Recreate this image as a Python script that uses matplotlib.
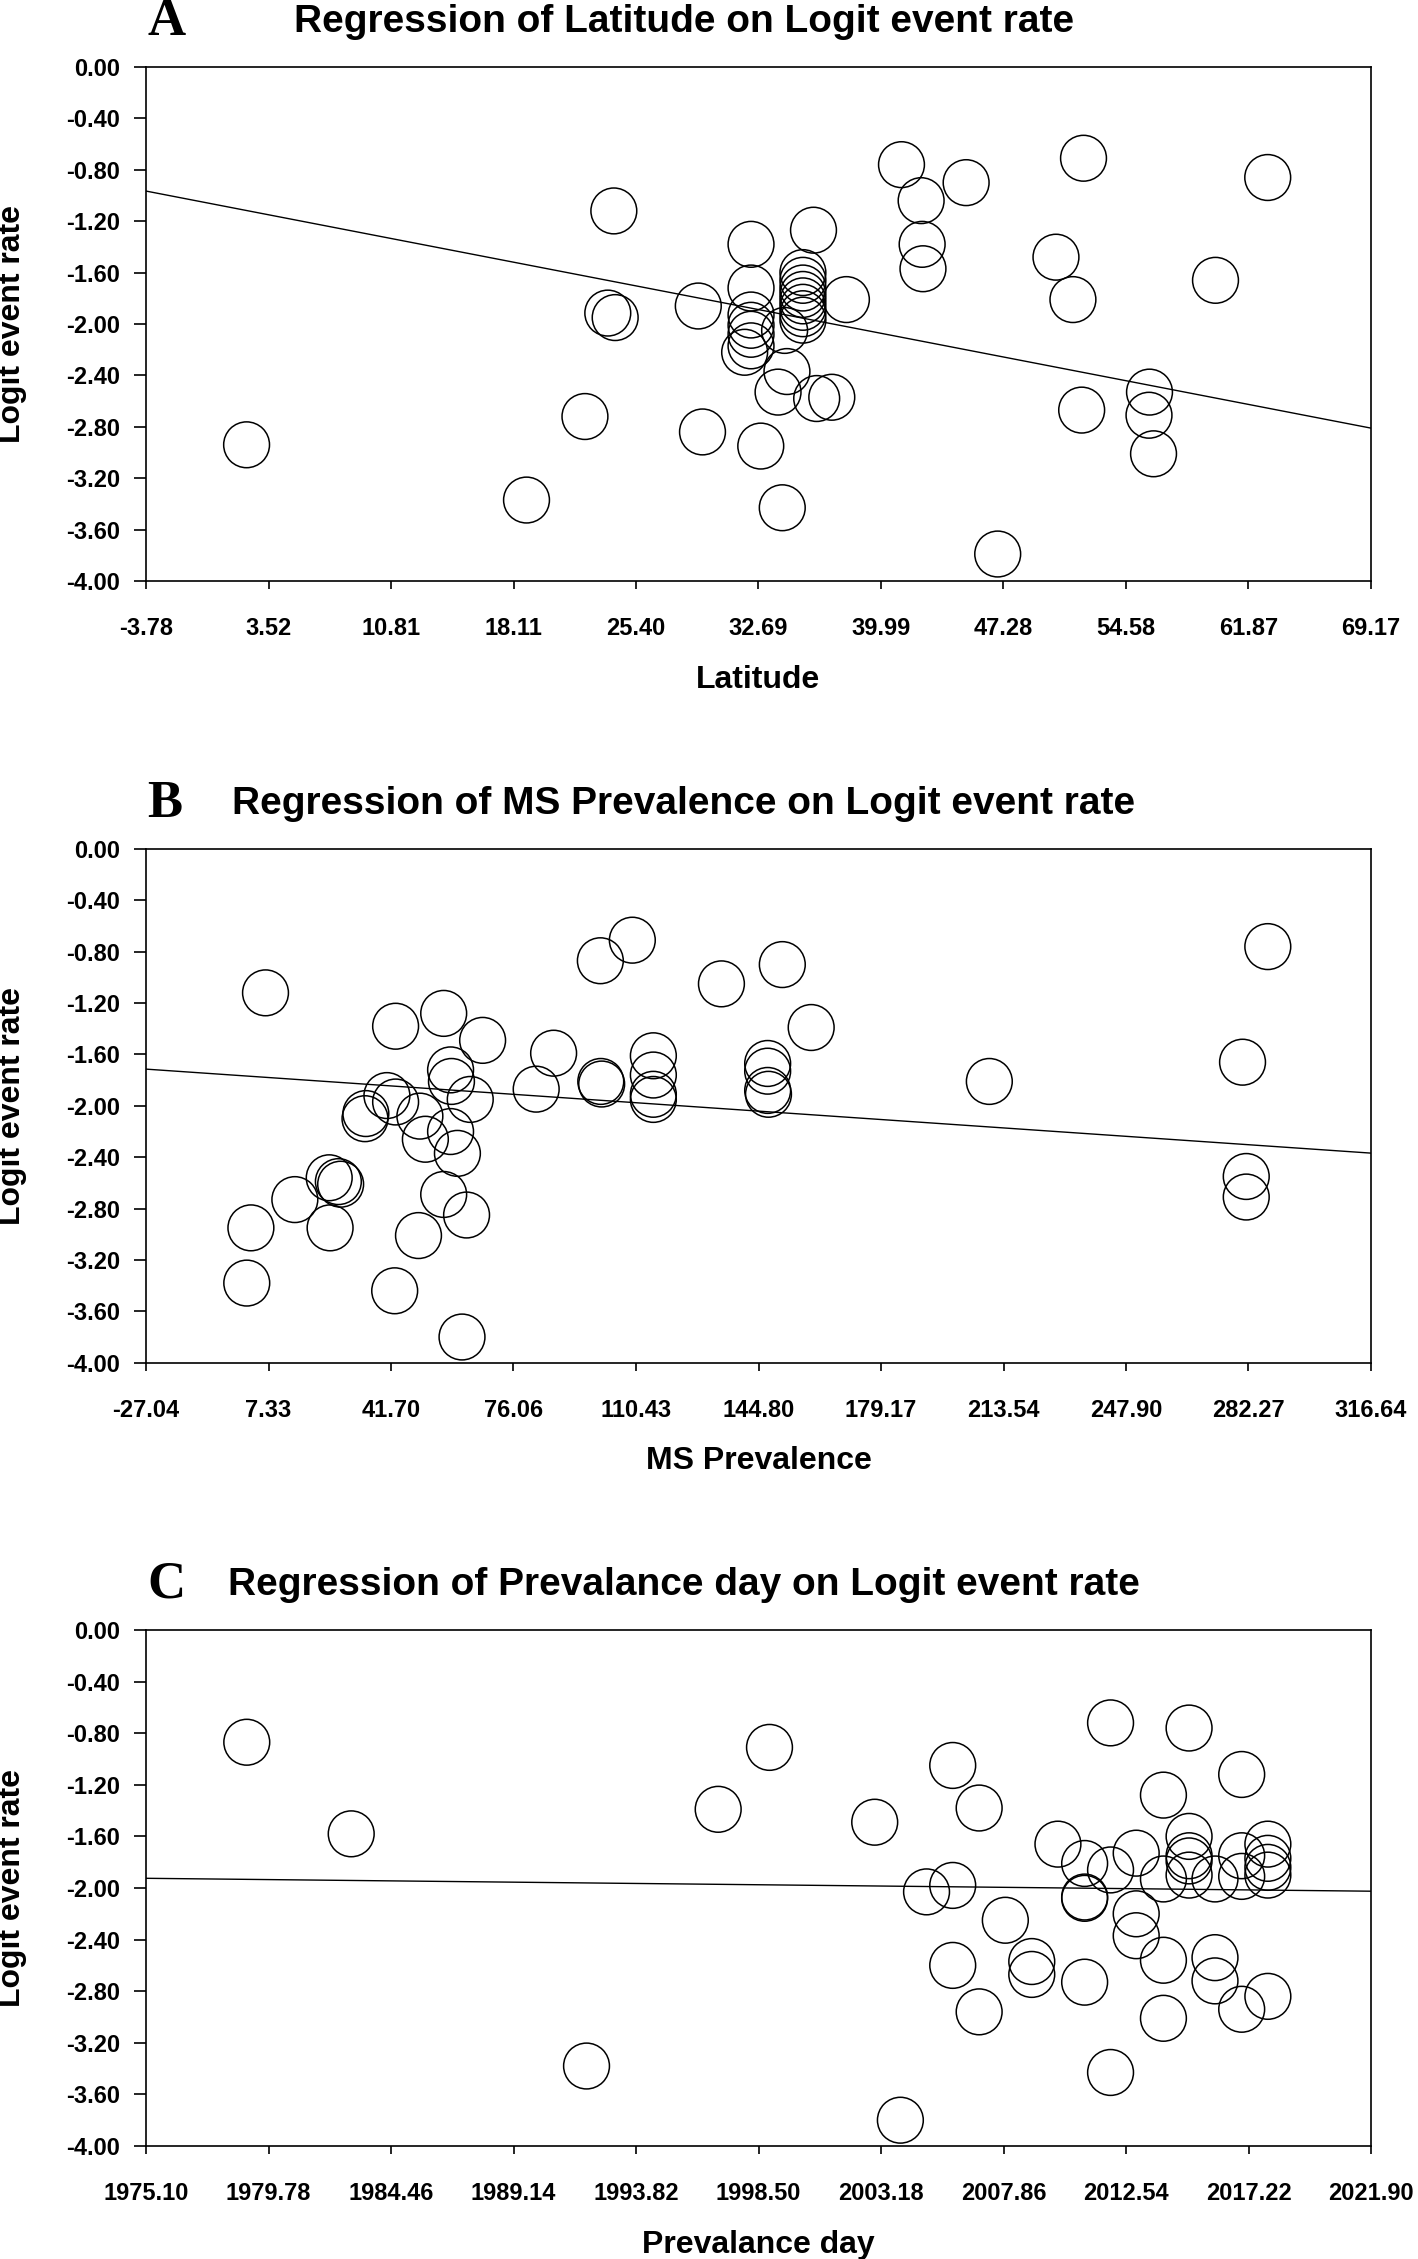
import numpy as np
import matplotlib
matplotlib.use("Agg")
import matplotlib.pyplot as plt

plt.rcParams['font.family'] = ['Liberation Sans', 'DejaVu Sans']

# Panel A - latitude
latitude = [2.21, 18.88, 22.36, 24.08, 23.72, 24.16, 29.11, 29.36,
            32.25, 32.25, 32.25, 32.25, 32.25, 32.25, 31.87,
            35.97, 35.34, 35.34, 35.34, 35.34, 35.34, 35.34, 35.34, 35.34,
            34.25, 37.93, 34.39, 33.86, 36.16, 37.06, 32.83, 34.11,
            41.21, 42.38, 42.44, 42.49, 45.06, 46.94, 50.41, 51.42,
            52.05, 51.94, 55.98, 55.95, 56.22, 59.91, 63.02]
logit_a = [-2.94, -3.37, -2.72, -1.12, -1.915, -1.95, -1.86, -2.84,
           -1.38, -1.72, -1.93, -2.01, -2.08, -2.17, -2.22,
           -1.27, -1.60, -1.66, -1.72, -1.77, -1.82, -1.87, -1.92, -1.97,
           -2.05, -1.81, -2.37, -2.53, -2.58, -2.57, -2.95, -3.43,
           -0.76, -1.04, -1.38, -1.57, -0.90, -3.79, -1.48, -1.81,
           -0.71, -2.67, -2.53, -2.71, -3.01, -1.66, -0.86]

# Panel B - MS prevalence
ms_prev = [6.49, 2.39, 1.23, 14.72, 24.36, 26.93, 27.57, 24.61, 34.64, 34.4,
           40.55, 42.99, 42.99, 42.73, 49.80, 51.34, 49.41, 56.48, 58.41, 58.66,
           58.41, 60.33, 56.48, 62.9, 61.62, 63.93, 67.40, 82.43, 87.32, 100.55,
           100.8, 100.43, 109.4, 115.3, 115.3, 115.3, 115.3, 134.4, 151.48, 159.58,
           147.37, 147.37, 147.37, 147.6, 209.56, 287.69, 280.6, 281.64, 281.64]
logit_b = [-1.12, -2.95, -3.38, -2.73, -2.56, -2.59, -2.61, -2.95, -2.06, -2.10,
           -1.92, -1.97, -1.38, -3.44, -2.08, -2.26, -3.01, -1.28, -1.72, -1.81,
           -2.20, -2.37, -2.69, -2.85, -3.80, -1.95, -1.49, -1.87, -1.59, -1.81,
           -1.83, -0.87, -0.71, -1.61, -1.76, -1.91, -1.95, -1.05, -0.90, -1.39,
           -1.67, -1.73, -1.88, -1.91, -1.81, -0.76, -1.66, -2.55, -2.71]

# Panel C - prevalence day (year)
prev_day = [1978.95, 1982.94, 1991.93, 1996.96, 1998.92, 2002.94, 2003.92, 2004.92,
            2005.92, 2005.92, 2005.92, 2006.93, 2006.93, 2007.93, 2008.94, 2008.94,
            2009.94, 2010.96, 2010.96, 2010.96, 2010.96, 2011.95, 2011.95, 2011.95,
            2012.93, 2012.93, 2012.93, 2013.97, 2013.97, 2013.97, 2013.97,
            2014.95, 2014.95, 2014.95, 2014.95, 2014.95, 2015.94, 2015.94, 2015.94,
            2016.96, 2016.96, 2016.96, 2016.96, 2017.96, 2017.96, 2017.96, 2017.96, 2017.96]
logit_c = [-0.87, -1.58, -3.38, -1.39, -0.91, -1.49, -3.80, -2.03,
           -1.98, -1.05, -2.60, -1.38, -2.96, -2.25, -2.57, -2.67,
           -1.66, -1.81, -2.07, -2.08, -2.73, -0.72, -1.86, -3.43,
           -1.73, -2.20, -2.37, -1.28, -1.93, -2.56, -3.01,
           -0.76, -1.60, -1.75, -1.79, -1.90, -1.93, -2.54, -2.72,
           -1.12, -1.75, -1.91, -2.94, -1.66, -1.77, -1.84, -1.90, -2.84]

# regression coefficients (intercept, slope)
fit_a = (-1.061, -0.02529)
fit_b = (-1.7655, -0.001903)
fit_c = (2.296, -0.002137)

xticks_a = [-3.78, 3.52, 10.81, 18.11, 25.40, 32.69, 39.99, 47.28, 54.58, 61.87, 69.17]
xticks_b = [-27.04, 7.33, 41.70, 76.06, 110.43, 144.80, 179.17, 213.54, 247.90, 282.27, 316.64]
xticks_c = [1975.10, 1979.78, 1984.46, 1989.14, 1993.82, 1998.50, 2003.18, 2007.86,
            2012.54, 2017.22, 2021.90]
yticks = [0.00, -0.40, -0.80, -1.20, -1.60, -2.00, -2.40, -2.80, -3.20, -3.60, -4.00]

panels = [
    ("A", "Regression of Latitude on Logit event rate", "Latitude",
     latitude, logit_a, fit_a, xticks_a, 67, 581),
    ("B", "Regression of MS Prevalence on Logit event rate", "MS Prevalence",
     ms_prev, logit_b, fit_b, xticks_b, 849, 1362.7),
    ("C", "Regression of Prevalance day on Logit event rate", "Prevalance day",
     prev_day, logit_c, fit_c, xticks_c, 1630, 2146),
]

W, H = 1418, 2259
fig = plt.figure(figsize=(W / 100, H / 100), dpi=100)
left_px, right_px = 146, 1371

for letter, title, xlabel, xs, ys, fit, xt, top, bot in panels:
    ax = fig.add_axes([left_px / W, 1 - bot / H, (right_px - left_px) / W, (bot - top) / H])
    ax.scatter(xs, ys, s=1089, facecolors='none', edgecolors='black', linewidths=1.1, zorder=3)
    xx = np.array([xt[0], xt[-1]])
    ax.plot(xx, fit[0] + fit[1] * xx, color='black', linewidth=1.0, zorder=2)
    ax.set_xlim(xt[0], xt[-1])
    ax.set_ylim(-4.0, 0.0)
    ax.set_xticks(xt)
    ax.set_xticklabels(["%.2f" % v for v in xt])
    ax.set_yticks(yticks)
    ax.set_yticklabels(["%.2f" % v for v in yticks])
    for lab in ax.get_xticklabels() + ax.get_yticklabels():
        lab.set_fontsize(17)
        lab.set_fontweight('bold')
    ax.tick_params(axis='y', direction='out', length=8.6, width=1.2, pad=10)
    ax.tick_params(axis='x', direction='out', length=5.8, width=1.2, pad=20)
    for sp in ax.spines.values():
        sp.set_linewidth(1.2)
    ax.set_xlabel(xlabel, fontsize=23, fontweight='bold')
    ax.set_ylabel("Logit event rate", fontsize=23, fontweight='bold')
    ax.xaxis.set_label_coords(0.5, -0.163)
    ax.yaxis.set_label_coords(-0.097, 0.5)
    fig.text(684 / W, 1 - (top - 35) / H, title, ha='center', va='baseline',
             fontsize=28, fontweight='bold')
    fig.text(147 / W, 1 - (top - 32) / H, letter, ha='left', va='baseline',
             fontsize=38, fontweight='bold', family=['Liberation Serif', 'DejaVu Serif'])

fig.savefig("out.png", dpi=100, facecolor='white')
